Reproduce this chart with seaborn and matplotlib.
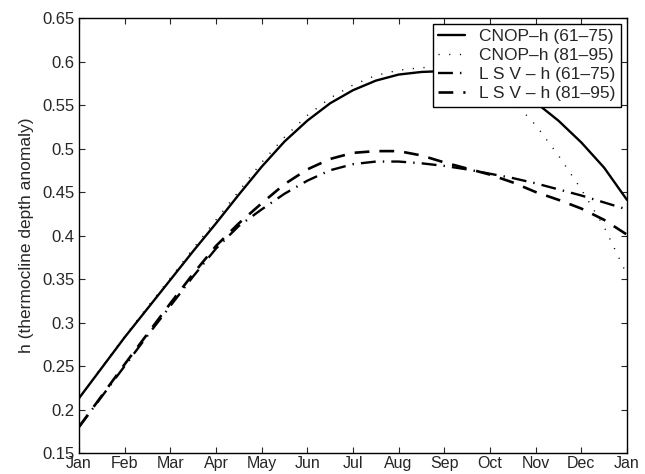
import numpy as np
import pandas as pd
import matplotlib
matplotlib.use("Agg")
import matplotlib.pyplot as plt
import seaborn as sns
from matplotlib.ticker import FuncFormatter

tick_labels = ["Jan", "Feb", "Mar", "Apr", "May", "Jun", "Jul", "Aug", "Sep", "Oct", "Nov", "Dec", "Jan"]
tick_pos = list(range(13))

# readings every half month (0 = Jan, 12 = following Jan)
month = [0, 0.5, 1, 1.5, 2, 2.5, 3, 3.5, 4, 4.5, 5, 5.5, 6, 6.5, 7, 7.5, 8, 8.5, 9, 9.5, 10, 10.5, 11, 11.5, 12]

cnop_61_75 = [0.213, 0.248, 0.283, 0.316, 0.349, 0.382, 0.414, 0.447, 0.479, 0.508, 0.532, 0.552, 0.567,
              0.578, 0.585, 0.588, 0.589, 0.586, 0.579, 0.568, 0.553, 0.532, 0.507, 0.478, 0.441]
cnop_81_95 = [0.213, 0.249, 0.284, 0.318, 0.351, 0.385, 0.418, 0.451, 0.484, 0.513, 0.538, 0.558, 0.573,
              0.584, 0.590, 0.593, 0.593, 0.588, 0.575, 0.555, 0.527, 0.492, 0.453, 0.410, 0.355]
lsv_61_75 = [0.180, 0.215, 0.250, 0.285, 0.319, 0.353, 0.385, 0.411, 0.430, 0.448, 0.463, 0.475, 0.482,
             0.485, 0.485, 0.483, 0.480, 0.476, 0.471, 0.466, 0.460, 0.453, 0.446, 0.438, 0.430]
lsv_81_95 = [0.180, 0.216, 0.252, 0.287, 0.322, 0.356, 0.388, 0.414, 0.437, 0.459, 0.476, 0.488, 0.495,
             0.497, 0.497, 0.492, 0.484, 0.477, 0.470, 0.461, 0.450, 0.441, 0.431, 0.418, 0.401]

labels = ["CNOP–h (61–75)", "CNOP–h (81–95)", "L S V – h (61–75)", "L S V – h (81–95)"]
series = [cnop_61_75, cnop_81_95, lsv_61_75, lsv_81_95]

df = pd.concat([pd.DataFrame({"month": month, "h": s, "series": lab})
                for s, lab in zip(series, labels)], ignore_index=True)

sns.set_style("white")
plt.rcParams['font.family'] = ['Liberation Sans', 'DejaVu Sans']

fig = plt.figure(figsize=(6.45, 4.74), dpi=100)
ax = fig.add_axes([0.1225, 0.0443, 0.8495, 0.9177])

dashes = {
    labels[0]: "",
    labels[1]: (0.8, 6.9),
    labels[2]: (6.3, 3.0, 0.6, 3.0),
    labels[3]: (5.6, 3.8),
}
widths = {labels[0]: 1.7, labels[1]: 1.0, labels[2]: 1.7, labels[3]: 1.9}

for lab in labels:
    sub = df[df["series"] == lab]
    sns.lineplot(data=sub, x="month", y="h", ax=ax, color="black",
                 linewidth=widths[lab], label=lab,
                 dashes=False, estimator=None)
for line, lab in zip(ax.get_lines(), labels):
    d = dashes[lab]
    if d:
        line.set_dashes(d)

ax.set_xlim(0, 12)
ax.set_ylim(0.15, 0.65)
ax.set_xticks(tick_pos)
ax.set_xticklabels(tick_labels)
ax.set_yticks(np.arange(0.15, 0.651, 0.05))
ax.yaxis.set_major_formatter(FuncFormatter(lambda v, p: "%g" % round(v, 2)))
ax.set_xlabel("")
ax.set_ylabel("h (thermocline depth anomaly)", fontsize=12.5, labelpad=6)
ax.tick_params(direction="in", length=4, width=0.8, labelsize=12, top=True, right=True,
               bottom=True, left=True, pad=3)
ax.tick_params(axis="x", pad=2.5, labelsize=11.5)
for sp in ax.spines.values():
    sp.set_visible(True)
    sp.set_color("black")
    sp.set_linewidth(1.0)

leg = ax.legend(loc="upper right", frameon=True, fancybox=False, fontsize=12.5,
                borderaxespad=0.35, handlelength=1.5, handletextpad=0.85,
                labelspacing=0.22, borderpad=0.3)
leg.get_frame().set_edgecolor("black")
leg.get_frame().set_linewidth(1.0)
leg.get_frame().set_alpha(1)
for hl, lab in zip(leg.get_lines(), labels):
    d = dashes[lab]
    if d:
        hl.set_dashes(d)

fig.savefig("out.png", dpi=100)
